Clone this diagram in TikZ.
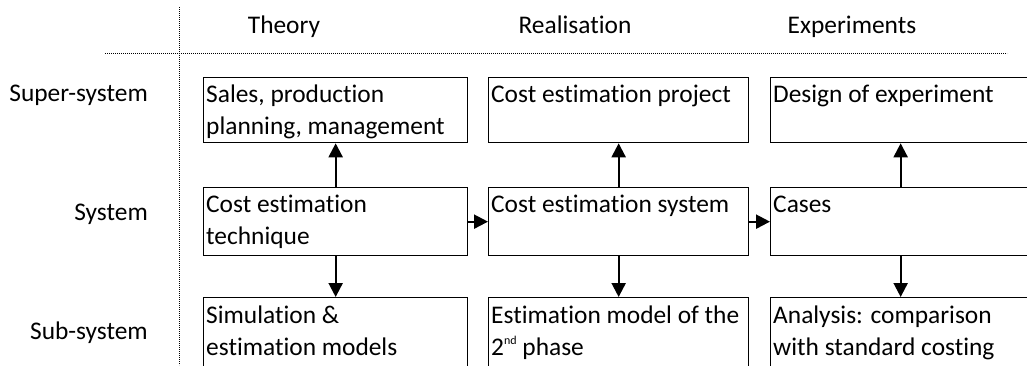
\documentclass[tikz,border=0pt]{standalone}
\usepackage{fontspec}
\setmainfont{Carlito}[Ligatures={NoCommon,NoContextual}]
\usetikzlibrary{arrows.meta,calc}
\begin{document}
\begin{tikzpicture}[x=1pt,y=-1pt,
  lbl/.style={font=\fontsize{25.4}{32}\selectfont, inner sep=0pt},
  frame/.style={draw, line width=1.3pt, anchor=north west, inner sep=0pt},
  inbox/.style={lbl, anchor=base west},
  flow/.style={line width=2.2pt, -{Triangle[length=14pt,width=14pt]}},
  guide/.style={line width=0.9pt, dash pattern=on 0.9pt off 1.1pt}]
\useasboundingbox (0,0) rectangle (1027,365);
\begin{scope}
\clip (0,0) rectangle (1027,365);

% guide lines separating headings
\coordinate (vtop) at (179,7);
\coordinate (vbot) at (179,365);
\coordinate (hl) at (105,53);
\coordinate (hr) at (1007,53);
\draw[guide] (vtop) -- (vbot);
\draw[guide] (hl) -- (hr);

% column headings
\node[lbl, anchor=base] (hTheory) at (284,33) {Theory};
\node[lbl, anchor=base] (hReal) at (575,33) {Realisation};
\node[lbl, anchor=base] (hExp) at (852,33) {Experiments};

% row headings
\node[lbl, anchor=base east] (rSuper) at (148,101) {Super-system};
\node[lbl, anchor=base east] (rSys) at (148,220) {System};
\node[lbl, anchor=base east] (rSub) at (148,339) {Sub-system};

% boxes
\node[frame, minimum width=264pt, minimum height=65pt] (sup1) at (203,77) {};
\node[frame, minimum width=260pt, minimum height=65pt] (sup2) at (488,77) {};
\node[frame, minimum width=260pt, minimum height=65pt] (sup3) at (770,77) {};
\node[frame, minimum width=264pt, minimum height=68pt] (sys1) at (203,187) {};
\node[frame, minimum width=260pt, minimum height=68pt] (sys2) at (488,187) {};
\node[frame, minimum width=260pt, minimum height=68pt] (sys3) at (770,187) {};
\node[frame, minimum width=264pt, minimum height=90pt] (sub1) at (203,297) {};
\node[frame, minimum width=260pt, minimum height=90pt] (sub2) at (488,297) {};
\node[frame, minimum width=260pt, minimum height=90pt] (sub3) at (770,297) {};

% box texts
\node[inbox] (tsup1) at ($(sup1.north west)+(3,25)$) {\parbox[t]{258pt}{Sales, production\\planning, management}};
\node[inbox] (tsup2) at ($(sup2.north west)+(3,25)$) {Cost estimation project};
\node[inbox] (tsup3) at ($(sup3.north west)+(3,25)$) {Design of experiment};
\node[inbox] (tsys1) at ($(sys1.north west)+(3,25)$) {\parbox[t]{258pt}{Cost estimation\\technique}};
\node[inbox] (tsys2) at ($(sys2.north west)+(3,25)$) {Cost estimation system};
\node[inbox] (tsys3) at ($(sys3.north west)+(3,25)$) {Cases};
\node[inbox] (tsub1) at ($(sub1.north west)+(3,26)$) {\parbox[t]{258pt}{Simulation \&\\estimation models}};
\node[inbox] (tsub2) at ($(sub2.north west)+(3,26)$) {\parbox[t]{258pt}{Estimation model of the\\2\raisebox{11pt}{\fontsize{12}{12}\selectfont nd} phase}};
\node[inbox] (tsub3) at ($(sub3.north west)+(3,26)$) {\parbox[t]{258pt}{Analysis: comparison\\with standard costing}};

% connectors
\draw[flow] (sys1.north) -- (sup1.south);
\draw[flow] (sys2.north) -- (sup2.south);
\draw[flow] (sys3.north) -- (sup3.south);
\draw[flow] (sys1.south) -- (sub1.north);
\draw[flow] (sys2.south) -- (sub2.north);
\draw[flow] (sys3.south) -- (sub3.north);
\draw[flow] (sys1.east) -- (sys2.west);
\draw[flow] (sys2.east) -- (sys3.west);
\end{scope}
\end{tikzpicture}
\end{document}
